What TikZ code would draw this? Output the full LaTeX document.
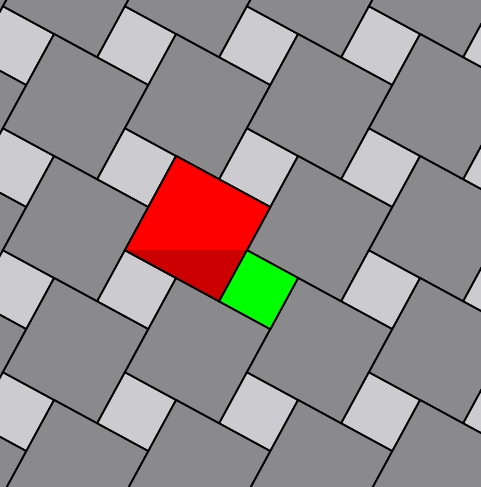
\documentclass[tikz,border=0pt]{standalone}
\definecolor{darktile}{RGB}{138,138,140}
\definecolor{lighttile}{RGB}{204,203,207}
\definecolor{redtile}{RGB}{255,0,0}
\definecolor{darkredtile}{RGB}{205,0,0}
\definecolor{greentile}{RGB}{0,255,0}
\tikzset{
  bigtile/.style={fill=darktile,draw=black,line width=1.8pt,line join=miter},
  smalltile/.style={fill=lighttile,draw=black,line width=1.8pt,line join=miter},
  redsq/.style={fill=redtile,draw=black,line width=1.8pt},
  greensq/.style={fill=greentile,draw=black,line width=1.8pt},
  darktri/.style={fill=darkredtile,draw=none}
}
\begin{document}
\begin{tikzpicture}[x=1pt,y=-1pt]
\useasboundingbox (0,0) rectangle (481,487);
\clip (0,0) rectangle (481,487);
\fill[darktile] (0,0) rectangle (481,487);
\def\A{107.2}
\def\B{58.2}
\def\C{122}
\def\ang{28.5}
\begin{scope}[shift={(176.1,156)}]
\foreach \m in {-3,...,3}{
  \foreach \n in {-3,...,3}{
    \draw[bigtile] (\m*\C,\n*\C) -- ++(\ang:\A) -- ++(\ang+90:\A) -- ++(\ang+180:\A) -- cycle;
    \draw[smalltile] (\m*\C,\n*\C) ++(\ang:\A) ++(\ang+90:\A-\B) -- ++(\ang:\B) -- ++(\ang+90:\B) -- ++(\ang+180:\B) -- cycle;
  }
}
\coordinate (T) at (0,0);
\path (T) ++(\ang:\A) coordinate (R) ++(\ang+90:\A) coordinate (Bt);
\path (T) ++(\ang+90:\A) coordinate (L);
\path (R) ++(\ang+90:\A-\B) coordinate (P);
\path (P) ++(\ang:\B) coordinate (GR) ++(\ang+90:\B) coordinate (GB);
\fill[redtile] (T) -- (R) -- (Bt) -- (L) -- cycle;
\fill[darktri] (L) -- (P) -- (Bt) -- cycle;
\draw[redsq,fill=none] (T) -- (R) -- (Bt) -- (L) -- cycle;
\draw[greensq] (P) -- (GR) -- (GB) -- (Bt) -- cycle;
\end{scope}
\end{tikzpicture}
\end{document}
